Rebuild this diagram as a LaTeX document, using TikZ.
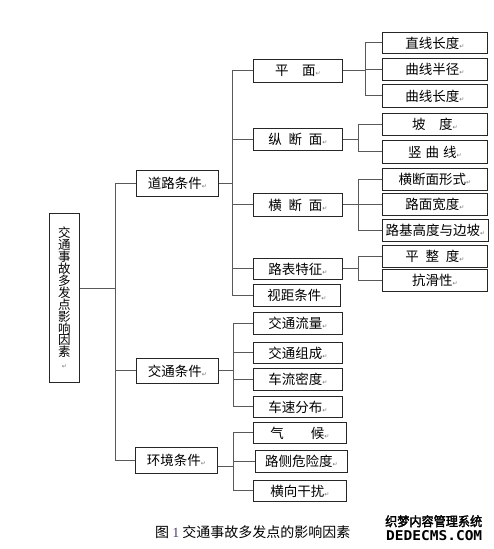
\documentclass[tikz,border=0pt]{standalone}
\usepackage{fontspec}
\setmainfont{Noto Sans CJK SC}
\newfontfamily\symfont{DejaVu Sans}
\newfontfamily\wmfont[FakeBold=2.5]{Noto Sans CJK SC}
\newfontfamily\wmlat{DejaVu Sans Mono}
\newfontfamily\serifnum{Liberation Serif}
\newcommand\retmk{{\symfont\fontsize{6}{6}\selectfont\textcolor{black!55}{↵}}}
\begin{document}
\begin{tikzpicture}[x=1pt,y=-1pt,
  box/.style={draw=black!85, line width=0.9pt, anchor=north west, inner sep=0pt,
    font=\fontsize{13.5}{14}\selectfont},
  conn/.style={draw=black!65, line width=1pt}]
\useasboundingbox[fill=white] (0,0) rectangle (493,549);

% root
\node[box, minimum width=30pt, minimum height=169pt, align=center,
  font=\fontsize{12.5}{11.9}\selectfont] (root) at (49,213)
  {交\\通\\事\\故\\多\\发\\点\\影\\响\\因\\素\\\retmk};

% level 1
\node[box, minimum width=82pt, minimum height=26pt] (dl) at (136,170) {道路条件\retmk};
\node[box, minimum width=82pt, minimum height=25pt] (jt) at (136,358) {交通条件\retmk};
\node[box, minimum width=82pt, minimum height=26pt] (hj) at (135,447) {环境条件\retmk};

% level 2
\node[box, minimum width=89pt, minimum height=23pt] (pm) at (253,59) {平\hspace{1em}面\retmk};
\node[box, minimum width=89pt, minimum height=22pt] (zd) at (253,128) {纵\hspace{0.5em}断\hspace{0.5em}面\retmk};
\node[box, minimum width=89pt, minimum height=23pt] (hd) at (253,193) {横\hspace{0.5em}断\hspace{0.5em}面\retmk};
\node[box, minimum width=89pt, minimum height=21pt] (lb) at (253,258) {路表特征\retmk};
\node[box, minimum width=87pt, minimum height=22pt] (sj) at (253,284) {视距条件\retmk};
\node[box, minimum width=89pt, minimum height=22pt] (jl) at (253,312) {交通流量\retmk};
\node[box, minimum width=89pt, minimum height=21pt] (jz) at (253,342) {交通组成\retmk};
\node[box, minimum width=89pt, minimum height=22pt] (cm) at (253,368) {车流密度\retmk};
\node[box, minimum width=89pt, minimum height=21pt] (cs) at (253,396) {车速分布\retmk};
\node[box, minimum width=93pt, minimum height=21pt] (qh) at (253,422) {气\hspace{2em}候\retmk};
\node[box, minimum width=92pt, minimum height=22pt] (lc) at (255,450) {路侧危险度\retmk};
\node[box, minimum width=93pt, minimum height=21pt] (hx) at (253,480) {横向干扰\retmk};

% level 3
\node[box, minimum width=105pt, minimum height=21pt] (zx) at (382,32) {直线长度\retmk};
\node[box, minimum width=105pt, minimum height=22pt] (qb) at (382,58) {曲线半径\retmk};
\node[box, minimum width=105pt, minimum height=23pt] (qc) at (382,84) {曲线长度\retmk};
\node[box, minimum width=105pt, minimum height=22pt] (pd) at (382,113) {坡\hspace{1em}度\retmk};
\node[box, minimum width=105pt, minimum height=23pt] (sq) at (382,140) {竖\hspace{0.3em}曲\hspace{0.3em}线\retmk};
\node[box, minimum width=105pt, minimum height=22pt] (hs) at (382,168) {横断面形式\retmk};
\node[box, minimum width=105pt, minimum height=22pt] (lk) at (382,193) {路面宽度\retmk};
\node[box, minimum width=106pt, minimum height=22pt] (lj) at (382,219) {路基高度与边坡\retmk};
\node[box, minimum width=105pt, minimum height=22pt] (pz) at (382,245) {平\hspace{0.5em}整\hspace{0.5em}度\retmk};
\node[box, minimum width=105pt, minimum height=22pt] (kh) at (382,269) {抗滑性\retmk};

% trunk x positions
\coordinate (t1) at (115,0);
\coordinate (t2) at (232,0);
\coordinate (t3) at (233,0);
\coordinate (t4) at (365,0);
\coordinate (t5) at (358,0);

% main trunk
\draw[conn] ([yshift=9.5pt]root.east) -- ([yshift=9.5pt]root.east -| t1);
\draw[conn] (dl.west -| t1) -- (hj.west -| t1);
\foreach \n in {dl,jt,hj} \draw[conn] (\n.west -| t1) -- (\n.west);

% road conditions
\draw[conn] (dl.east) -- (dl.east -| t2);
\draw[conn] (pm.west -| t2) -- (sj.west -| t2);
\foreach \n in {pm,zd,hd,lb,sj} \draw[conn] (\n.west -| t2) -- (\n.west);

\draw[conn] (pm.east) -- (pm.east -| t4);
\draw[conn] (zx.west -| t4) -- (qc.west -| t4);
\foreach \n in {zx,qb,qc} \draw[conn] (\n.west -| t4) -- (\n.west);

\draw[conn] (zd.east) -- (zd.east -| t5);
\draw[conn] (pd.west -| t5) -- (sq.west -| t5);
\foreach \n in {pd,sq} \draw[conn] (\n.west -| t5) -- (\n.west);

\draw[conn] (hd.east) -- (hd.east -| t5);
\draw[conn] (hs.west -| t5) -- (lj.west -| t5);
\foreach \n in {hs,lk,lj} \draw[conn] (\n.west -| t5) -- (\n.west);

\draw[conn] (lb.east) -- (lb.east -| t5);
\draw[conn] (pz.west -| t5) -- (kh.west -| t5);
\foreach \n in {pz,kh} \draw[conn] (\n.west -| t5) -- (\n.west);

% traffic conditions
\draw[conn] (jt.east) -- (jt.east -| t3);
\draw[conn] (jl.west -| t3) -- (cs.west -| t3);
\foreach \n in {jl,jz,cm,cs} \draw[conn] (\n.west -| t3) -- (\n.west);

% environment conditions
\draw[conn] ([yshift=-6pt]hj.east) -- ([yshift=-6pt]hj.east -| t3);
\draw[conn] (qh.west -| t3) -- (hx.west -| t3);
\foreach \n in {qh,lc,hx} \draw[conn] (\n.west -| t3) -- (\n.west);

% caption
\node[anchor=west, inner sep=0pt, font=\fontsize{14}{14}\selectfont] (cap) at (155,532)
  {图 {\serifnum\textcolor[RGB]{80,60,110}{1}} 交通事故多发点的影响因素};

% watermark
\node[anchor=north west, inner sep=0pt] (wm1) at (385,515)
  {\resizebox{97pt}{11pt}{\wmfont 织梦内容管理系统}};
\node[anchor=north west, inner sep=0pt] (wm2) at (386,530)
  {\resizebox{96pt}{10pt}{\wmlat\bfseries DEDECMS.COM}};
\end{tikzpicture}
\end{document}
